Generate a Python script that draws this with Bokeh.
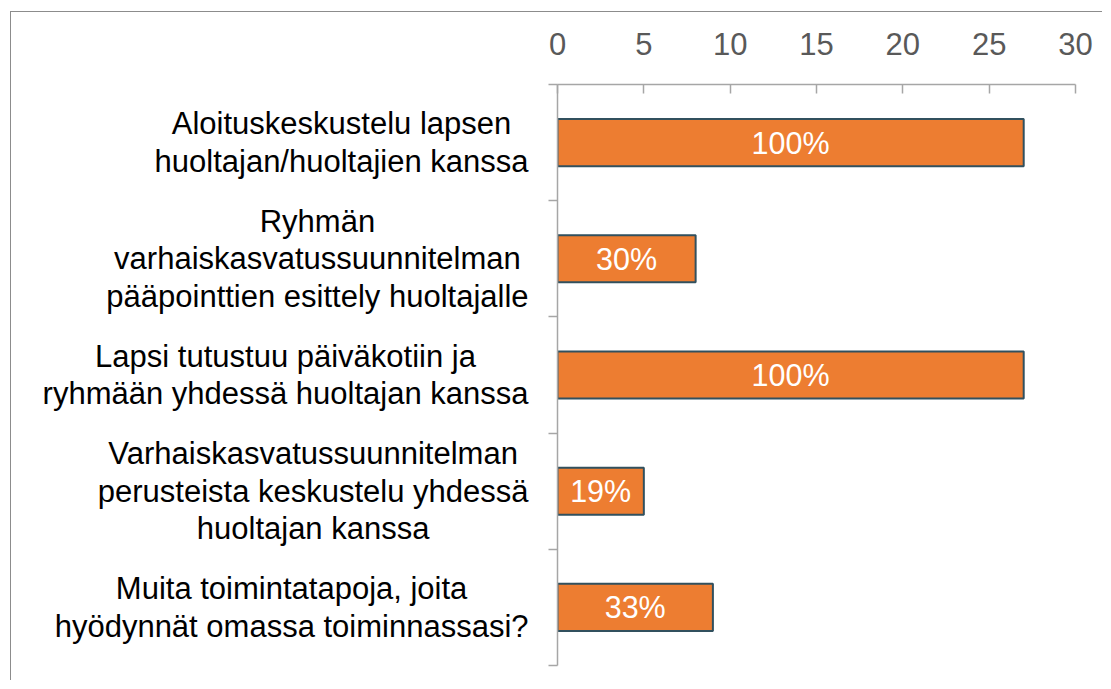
from bokeh.plotting import figure
from bokeh.models import Range1d, FixedTicker, ColumnDataSource
from bokeh.core.properties import value
from bokeh.embed import file_html
from bokeh.resources import INLINE

categories = [
    "Aloituskeskustelu lapsen\nhuoltajan/huoltajien kanssa",
    "Ryhmän\nvarhaiskasvatussuunnitelman\npääpointtien esittely huoltajalle",
    "Lapsi tutustuu päiväkotiin ja\nryhmään yhdessä huoltajan kanssa",
    "Varhaiskasvatussuunnitelman\nperusteista keskustelu yhdessä\nhuoltajan kanssa",
    "Muita toimintatapoja, joita\nhyödynnät omassa toiminnassasi?",
]
counts = [27, 8, 27, 5, 9]
percent_labels = ["100%", "30%", "100%", "19%", "33%"]
x_ticks = [0, 5, 10, 15, 20, 25, 30]

FONT = "Liberation Sans"
LABEL_SIZE = 31.0
LABEL_GAP = 29  # px between label block and axis line

# Arial / Liberation Sans advance widths (per 1000 em) to centre wrapped lines
_W = {
    "a": 556, "b": 556, "c": 500, "d": 556, "e": 556, "f": 278, "g": 556,
    "h": 556, "i": 222, "j": 222, "k": 500, "l": 222, "m": 833, "n": 556,
    "o": 556, "p": 556, "q": 556, "r": 333, "s": 500, "t": 278, "u": 556,
    "v": 500, "w": 722, "x": 500, "y": 500, "z": 500, "ä": 556, "ö": 556,
    " ": 278, "/": 278, ",": 278, "?": 556, "A": 667, "R": 722, "L": 556,
    "V": 667, "M": 833,
}


def block_width(label):
    return max(sum(_W.get(ch, 556) for ch in line) for line in label.split("\n")) * LABEL_SIZE / 1000


n = len(categories)
centers = [i + 0.5 for i in range(n)]
bounds = [float(i) for i in range(n + 1)]

src = ColumnDataSource(dict(
    y=centers,
    count=counts,
    mid=[c / 2 for c in counts],
    label=percent_labels,
))

cat_src = ColumnDataSource(dict(
    x=[0] * n,
    y=centers,
    text=categories,
    dx=[-(LABEL_GAP + block_width(c) / 2) for c in categories],
))

p = figure(
    width=1092, height=669,
    x_range=Range1d(0, 30), y_range=Range1d(n, 0),
    output_backend="svg", toolbar_location=None,
    x_axis_location="above",
)
p.min_border_left = 546
p.min_border_top = 72
p.min_border_right = 28
p.min_border_bottom = 16
p.outline_line_color = None
p.xgrid.grid_line_color = None
p.ygrid.grid_line_color = None
p.background_fill_color = "white"
p.border_fill_color = "white"
p.styles = {
    "margin-left": "10px",
    "margin-top": "11px",
    "border-top": "1px solid #8c8c8c",
    "border-left": "1px solid #8c8c8c",
}

p.hbar(y="y", right="count", left=0, height=0.405, source=src,
       fill_color="#ED7D31", line_color="#31505e", line_width=2)

p.text(x="mid", y="y", text="label", source=src,
       text_align="center", text_baseline="middle",
       text_color="white", text_font=value(FONT), text_font_size="30.5px")

# category labels (centred lines, block right-aligned next to the axis)
p.text(x="x", y="y", text="text", x_offset="dx", source=cat_src,
       text_align="center", text_baseline="middle", text_line_height=1.08,
       text_color="#000000", text_font=value(FONT),
       text_font_size=f"{LABEL_SIZE}px", level="overlay")

xa = p.xaxis[0]
xa.ticker = FixedTicker(ticks=x_ticks)
xa.axis_line_color = "#a6a6a6"
xa.axis_line_width = 1.5
xa.major_tick_line_color = "#a6a6a6"
xa.major_tick_line_width = 1.5
xa.major_tick_in = 9
xa.major_tick_out = 0
xa.minor_tick_line_color = None
xa.major_label_standoff = 30
xa.major_label_text_font = FONT
xa.major_label_text_font_size = "31px"
xa.major_label_text_color = "#595959"

ya = p.yaxis[0]
ya.ticker = FixedTicker(ticks=[], minor_ticks=bounds)
ya.axis_line_color = "#a6a6a6"
ya.axis_line_width = 1.5
ya.major_tick_line_color = None
ya.major_tick_in = 0
ya.major_tick_out = 0
ya.minor_tick_line_color = "#a6a6a6"
ya.minor_tick_line_width = 1.5
ya.minor_tick_in = 0
ya.minor_tick_out = 9

open("out.html", "w").write(file_html(p, INLINE))
